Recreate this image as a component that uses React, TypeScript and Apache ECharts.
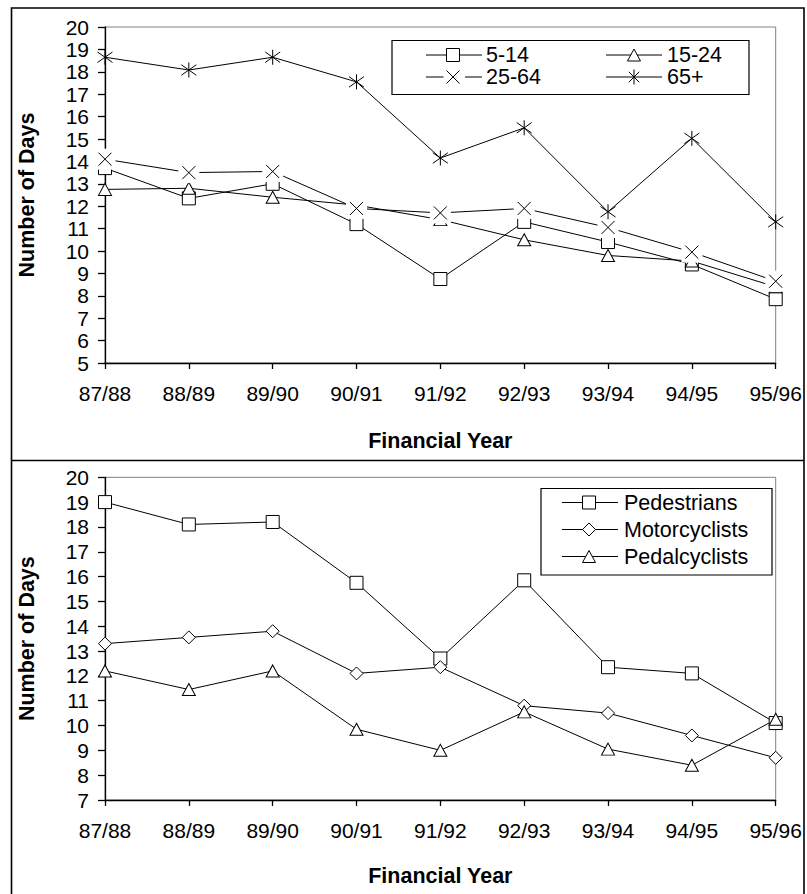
import React, { useEffect, useRef } from "react";
import * as echarts from "echarts";

const categories = ["87/88", "88/89", "89/90", "90/91", "91/92", "92/93", "93/94", "94/95", "95/96"];

// Top chart: age groups
const topNames = ["5-14", "15-24", "25-64", "65+"];
const age5to14 = [13.7, 12.35, 13.0, 11.2, 8.75, 11.3, 10.4, 9.4, 7.85];
const age15to24 = [12.75, 12.8, 12.4, 12.05, 11.4, 10.5, 9.8, 9.55, 8.4];
const age25to64 = [14.1, 13.5, 13.55, 11.9, 11.7, 11.9, 11.05, 9.95, 8.65];
const age65plus = [18.65, 18.08, 18.65, 17.55, 14.15, 15.5, 11.75, 15.03, 11.3];

// Bottom chart: road user types
const bottomNames = ["Pedestrians", "Motorcyclists", "Pedalcyclists"];
const pedestrians = [19.0, 18.1, 18.2, 15.75, 12.7, 15.85, 12.35, 12.1, 10.1];
const motorcyclists = [13.3, 13.55, 13.8, 12.1, 12.35, 10.8, 10.5, 9.6, 8.7];
const pedalcyclists = [12.2, 11.45, 12.2, 9.85, 9.0, 10.55, 9.05, 8.4, 10.25];

const yTitle = "Number of Days";
const xTitle = "Financial Year";

const FONT = "'Liberation Sans', Arial, Helvetica, sans-serif";
const X_PATH = "path://M0,0L10,10M10,0L0,10";
const STAR_PATH = "path://M5,0L5,10M1.5,1.5L8.5,8.5M8.5,1.5L1.5,8.5";

const markerStyle = { color: "#fff", borderColor: "#000", borderWidth: 1, opacity: 1 };

function lineSeries(name: string, data: number[], gi: number) {
  return {
    type: "line",
    name,
    data,
    xAxisIndex: gi,
    yAxisIndex: gi,
    symbol: "none",
    clip: false,
    z: 2,
    lineStyle: { color: "#000", width: 1 },
  };
}

function markerSeries(name: string, data: number[], gi: number, symbol: string, size: any, style: any = markerStyle) {
  return {
    type: "scatter",
    name,
    data,
    xAxisIndex: gi,
    yAxisIndex: gi,
    symbol,
    symbolSize: size,
    clip: false,
    z: 3,
    itemStyle: style,
    emphasis: { disabled: true },
  };
}

function xAxis(gi: number, nameGap: number) {
  return {
    type: "category",
    gridIndex: gi,
    data: categories,
    boundaryGap: false,
    name: xTitle,
    nameLocation: "middle",
    nameGap,
    nameTextStyle: { fontFamily: FONT, fontSize: 21.5, fontWeight: "bold", color: "#000" },
    axisLine: { show: true, lineStyle: { color: "#000", width: 1.3 } },
    axisTick: { show: true, inside: false, length: 6, alignWithLabel: true, lineStyle: { color: "#000", width: 1.3 } },
    axisLabel: { margin: 20, fontFamily: FONT, fontSize: 21, color: "#000" },
    splitLine: { show: false },
  };
}

function yAxis(gi: number, min: number) {
  return {
    type: "value",
    gridIndex: gi,
    min,
    max: 20,
    interval: 1,
    name: yTitle,
    nameLocation: "middle",
    nameGap: 67,
    nameTextStyle: { fontFamily: FONT, fontSize: 21.5, fontWeight: "bold", color: "#000" },
    axisLine: { show: true, lineStyle: { color: "#000", width: 1.3 } },
    axisTick: { show: true, inside: false, length: 7, lineStyle: { color: "#000", width: 1.3 } },
    axisLabel: { margin: 16, fontFamily: FONT, fontSize: 21, color: "#000" },
    splitLine: { show: false },
  };
}

function legendText(text: string, x: number, y: number) {
  return {
    type: "text",
    style: {
      text,
      x,
      y,
      fill: "#000",
      font: `21.5px ${FONT}`,
      align: "left",
      verticalAlign: "middle",
      textVerticalAlign: "middle",
    },
    z: 10,
  };
}

function hline(x1: number, x2: number, y: number) {
  return { type: "line", shape: { x1, y1: y, x2, y2: y }, style: { stroke: "#000", lineWidth: 1 }, z: 10 };
}

function seg(x1: number, y1: number, x2: number, y2: number) {
  return { type: "line", shape: { x1, y1, x2, y2 }, style: { stroke: "#000", lineWidth: 1 }, z: 11 };
}

function squareMark(cx: number, cy: number, s: number) {
  return {
    type: "rect",
    shape: { x: cx - s / 2, y: cy - s / 2, width: s, height: s },
    style: { fill: "#fff", stroke: "#000", lineWidth: 1 },
    z: 11,
  };
}

function triMark(cx: number, cy: number, w: number, h: number) {
  return {
    type: "polygon",
    shape: { points: [[cx, cy - h / 2], [cx + w / 2, cy + h / 2], [cx - w / 2, cy + h / 2]] },
    style: { fill: "#fff", stroke: "#000", lineWidth: 1 },
    z: 11,
  };
}

function diamondMark(cx: number, cy: number, s: number) {
  return {
    type: "polygon",
    shape: { points: [[cx, cy - s / 2], [cx + s / 2, cy], [cx, cy + s / 2], [cx - s / 2, cy]] },
    style: { fill: "#fff", stroke: "#000", lineWidth: 1 },
    z: 11,
  };
}

function xMark(cx: number, cy: number, s: number) {
  const h = s / 2;
  return [seg(cx - h, cy - h, cx + h, cy + h), seg(cx + h, cy - h, cx - h, cy + h)];
}

function starMark(cx: number, cy: number, s: number) {
  const h = s / 2;
  const d = h * 0.7;
  return [seg(cx, cy - h, cx, cy + h), seg(cx - d, cy - d, cx + d, cy + d), seg(cx + d, cy - d, cx - d, cy + d)];
}

export default function App() {
  const ref = useRef<HTMLDivElement>(null);

  useEffect(() => {
    if (!ref.current) return;
    const chart = echarts.init(ref.current, undefined, { renderer: "svg" });

    // Top legend geometry
    const r1 = 55, r2 = 77;
    const c1 = 453, c2 = 634;
    // Bottom legend geometry
    const b1 = 502.5, b2 = 529.5, b3 = 556.5;
    const bc = 589;

    const graphic: any[] = [
      // outer frame and divider
      {
        type: "rect",
        shape: { x: 11.5, y: 8, width: 792.5, height: 900 },
        style: { fill: "none", stroke: "#000", lineWidth: 1.6 },
        z: 0,
      },
      { type: "line", shape: { x1: 11.5, y1: 460.5, x2: 804, y2: 460.5 }, style: { stroke: "#000", lineWidth: 1.6 }, z: 0 },

      // Top legend
      {
        type: "rect",
        shape: { x: 392, y: 40.5, width: 357, height: 54 },
        style: { fill: "#fff", stroke: "#000", lineWidth: 1.2 },
        z: 9,
      },
      hline(426, 482, r1),
      squareMark(c1, r1, 13),
      legendText(topNames[0], 486, r1),
      hline(606, 662, r1),
      triMark(c2, r1, 13, 12),
      legendText(topNames[1], 667, r1),
      hline(426, 443.5, r2),
      hline(465, 482, r2),
      ...xMark(c1, r2, 13),
      legendText(topNames[2], 486, r2),
      hline(606, 662, r2),
      ...starMark(c2, r2, 15),
      legendText(topNames[3], 667, r2),

      // Bottom legend
      {
        type: "rect",
        shape: { x: 541, y: 488.5, width: 231, height: 86.5 },
        style: { fill: "#fff", stroke: "#000", lineWidth: 1.2 },
        z: 9,
      },
      hline(562, 618, b1),
      squareMark(bc, b1, 13),
      legendText(bottomNames[0], 624, b1),
      hline(562, 618, b2),
      diamondMark(bc, b2, 13),
      legendText(bottomNames[1], 624, b2),
      hline(562, 618, b3),
      triMark(bc, b3, 13, 12),
      legendText(bottomNames[2], 624, b3),
    ];

    const option: any = {
      animation: false,
      backgroundColor: "#fff",
      textStyle: { fontFamily: FONT },
      grid: [
        { left: 105, top: 27, width: 670.7, height: 336, show: true, borderColor: "#808080", borderWidth: 1, backgroundColor: "transparent" },
        { left: 105, top: 477.3, width: 670.7, height: 322.7, show: true, borderColor: "#808080", borderWidth: 1, backgroundColor: "transparent" },
      ],
      xAxis: [xAxis(0, 67), xAxis(1, 65)],
      yAxis: [yAxis(0, 5), yAxis(1, 7)],
      graphic,
      series: [
        // top lines
        lineSeries(topNames[0], age5to14, 0),
        lineSeries(topNames[1], age15to24, 0),
        lineSeries(topNames[2], age25to64, 0),
        lineSeries(topNames[3], age65plus, 0),
        // top markers
        markerSeries(topNames[0] + " marker", age5to14, 0, "rect", 13),
        markerSeries(topNames[1] + " marker", age15to24, 0, "triangle", [13, 12]),
        markerSeries(topNames[2] + " mask", age25to64, 0, "rect", 21, { color: "#fff", borderWidth: 0, opacity: 1 }),
        markerSeries(topNames[2] + " marker", age25to64, 0, X_PATH, 13),
        markerSeries(topNames[3] + " marker", age65plus, 0, STAR_PATH, 15),
        // bottom lines
        lineSeries(bottomNames[0], pedestrians, 1),
        lineSeries(bottomNames[1], motorcyclists, 1),
        lineSeries(bottomNames[2], pedalcyclists, 1),
        // bottom markers
        markerSeries(bottomNames[0] + " marker", pedestrians, 1, "rect", 13),
        markerSeries(bottomNames[1] + " marker", motorcyclists, 1, "diamond", 13),
        markerSeries(bottomNames[2] + " marker", pedalcyclists, 1, "triangle", [13, 12]),
      ],
    };

    chart.setOption(option);
    return () => {
      chart.dispose();
    };
  }, []);

  return (
    <div
      ref={ref}
      style={{ position: "absolute", left: 0, top: 0, width: 807, height: 894, background: "#fff" }}
    />
  );
}
